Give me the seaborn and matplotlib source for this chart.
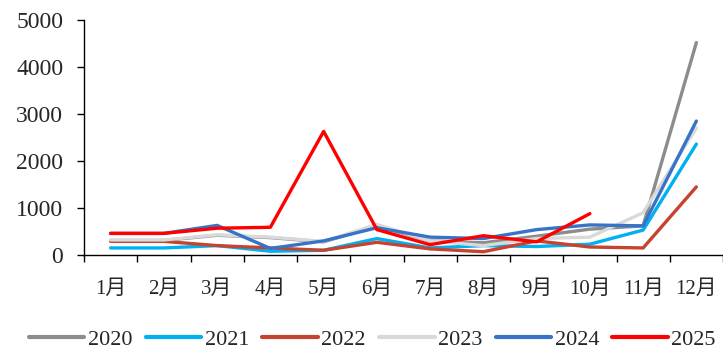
import numpy as np
import pandas as pd
import matplotlib
matplotlib.use("Agg")
import matplotlib.pyplot as plt
import seaborn as sns

months = ["1月", "2月", "3月", "4月", "5月", "6月", "7月", "8月", "9月", "10月", "11月", "12月"]
v2020 = [310, 310, 420, 370, 280, 620, 300, 260, 400, 550, 620, 4520]
v2021 = [150, 150, 200, 80, 100, 350, 150, 200, 180, 230, 530, 2360]
v2022 = [290, 290, 200, 150, 100, 270, 130, 70, 300, 170, 150, 1450]
v2023 = [320, 320, 430, 380, 290, 650, 300, 200, 350, 380, 900, 2700]
v2024 = [460, 460, 630, 140, 300, 580, 380, 350, 540, 640, 620, 2850]
v2025 = [460, 460, 570, 590, 2630, 540, 220, 410, 280, 880]

years = ["2020", "2021", "2022", "2023", "2024", "2025"]
series = [v2020, v2021, v2022, v2023, v2024, v2025]
colors = ["#8c8c8c", "#00b0f0", "#c5432f", "#d9d9d9", "#3674c8", "#ff0000"]

rows = []
for y, vals in zip(years, series):
    for i, v in enumerate(vals):
        rows.append({"year": y, "idx": i, "value": v})
df = pd.DataFrame(rows)

sns.set_theme(style="white")
plt.rcParams["font.family"] = ["Liberation Serif", "Noto Sans CJK SC"]

fig = plt.figure(figsize=(7.23, 3.49), dpi=100)
ax = fig.add_axes([84 / 723, 1 - 255 / 349, 639 / 723, (255 - 20) / 349])

sns.lineplot(data=df, x="idx", y="value", hue="year", hue_order=years,
             palette=dict(zip(years, colors)), linewidth=2.4, ax=ax,
             estimator=None, sort=False)

ax.set_xlim(-0.5, 11.5)
ax.set_ylim(0, 5000)
ax.set_yticks([0, 1000, 2000, 3000, 4000, 5000])
ax.set_yticklabels(["0", "1000", "2000", "3000", "4000", "5000"], fontsize=17)
ax.set_xticks(np.arange(-0.5, 12, 1))
ax.set_xticklabels([])
ax.set_xticks(np.arange(12), minor=True)
ax.set_xticklabels(months, minor=True, fontsize=15)
ax.tick_params(axis="x", which="major", direction="out", length=5, width=1, color="black", bottom=True)
ax.tick_params(axis="x", which="minor", length=0, pad=18, bottom=True)
ax.tick_params(axis="y", direction="out", length=5, width=1, color="black", left=True, pad=10)
ax.set_xlabel("")
ax.set_ylabel("")
for s in ["top", "right"]:
    ax.spines[s].set_visible(False)
for s in ["left", "bottom"]:
    ax.spines[s].set_color("black")
    ax.spines[s].set_linewidth(1)

handles, labels = ax.get_legend_handles_labels()
ax.legend_.remove()
fig.legend(handles, labels, loc="lower center", bbox_to_anchor=(0.515, -0.06), ncol=6,
           frameon=False, fontsize=16, handlelength=2.5, handletextpad=0.15,
           columnspacing=0.6)
for h in fig.legends[0].legend_handles:
    h.set_linewidth(3)

fig.savefig("out.png", dpi=100)
